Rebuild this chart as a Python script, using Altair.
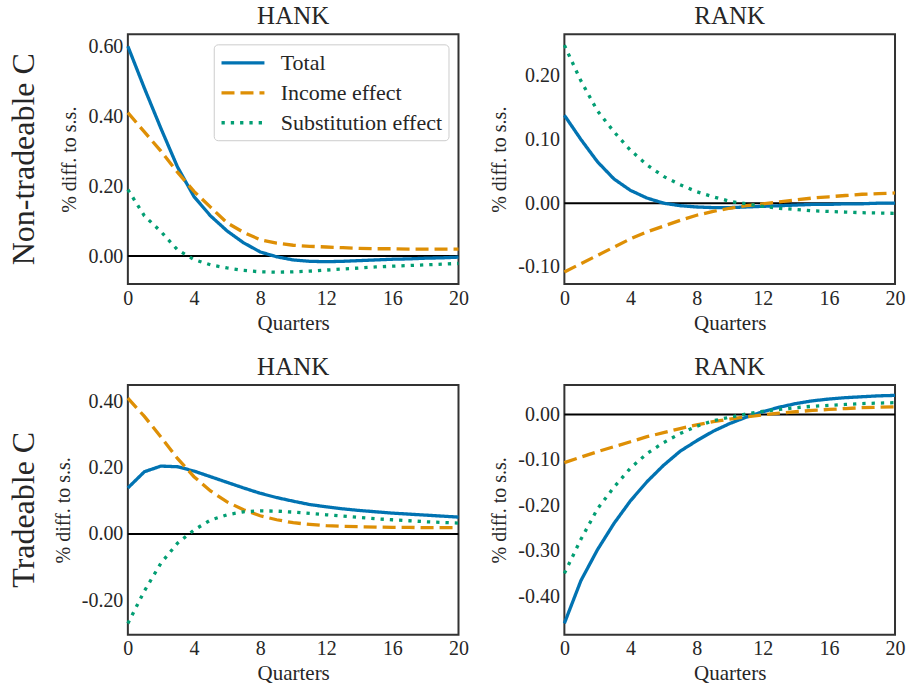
import altair as alt
import pandas as pd

# ---------------- data ----------------
quarters = list(range(21))
series_names = ["Total", "Income effect", "Substitution effect"]
series_colors = ["#0173b2", "#de8f05", "#029e73"]
series_dashes = [[1, 0], [13, 6], [3.3, 6]]

panel_titles = ["HANK", "RANK", "HANK", "RANK"]
row_labels = ["Non-tradeable C", "Tradeable C"]

# Non-tradeable C, HANK
nt_hank_total = [0.600, 0.480, 0.365, 0.255, 0.170, 0.115, 0.072, 0.038, 0.012, -0.002, -0.011, -0.015,
                 -0.016, -0.015, -0.013, -0.011, -0.009, -0.008, -0.006, -0.005, -0.003]
nt_hank_income = [0.410, 0.355, 0.300, 0.240, 0.185, 0.140, 0.095, 0.068, 0.047, 0.037, 0.031, 0.028,
                  0.026, 0.024, 0.022, 0.021, 0.021, 0.020, 0.020, 0.020, 0.020]
nt_hank_subst = [0.190, 0.115, 0.070, 0.018, -0.010, -0.025, -0.034, -0.041, -0.045, -0.046, -0.045, -0.043,
                 -0.040, -0.037, -0.034, -0.031, -0.029, -0.027, -0.025, -0.023, -0.021]

# Non-tradeable C, RANK
nt_rank_total = [0.138, 0.100, 0.065, 0.038, 0.020, 0.008, 0.000, -0.004, -0.006, -0.007, -0.007, -0.006,
                 -0.005, -0.004, -0.003, -0.002, -0.002, -0.001, -0.001, 0.000, 0.000]
nt_rank_income = [-0.108, -0.095, -0.082, -0.069, -0.056, -0.045, -0.036, -0.027, -0.019, -0.013, -0.008,
                  -0.004, -0.001, 0.002, 0.005, 0.008, 0.010, 0.012, 0.014, 0.015, 0.016]
nt_rank_subst = [0.248, 0.192, 0.145, 0.112, 0.083, 0.060, 0.042, 0.029, 0.018, 0.010, 0.003, -0.001,
                 -0.005, -0.008, -0.010, -0.012, -0.013, -0.014, -0.015, -0.0155, -0.016]

# Tradeable C, HANK
t_hank_total = [0.139, 0.188, 0.205, 0.203, 0.190, 0.173, 0.156, 0.139, 0.123, 0.110, 0.099, 0.089,
                0.082, 0.076, 0.071, 0.067, 0.063, 0.060, 0.057, 0.054, 0.051]
t_hank_income = [0.410, 0.355, 0.293, 0.228, 0.173, 0.130, 0.097, 0.073, 0.055, 0.043, 0.034, 0.029,
                 0.025, 0.023, 0.022, 0.021, 0.020, 0.020, 0.019, 0.019, 0.019]
t_hank_subst = [-0.270, -0.172, -0.088, -0.028, 0.012, 0.042, 0.058, 0.067, 0.070, 0.069, 0.066, 0.062,
                0.058, 0.054, 0.050, 0.046, 0.043, 0.040, 0.037, 0.035, 0.033]

# Tradeable C, RANK
t_rank_total = [-0.460, -0.366, -0.298, -0.240, -0.190, -0.148, -0.112, -0.081, -0.058, -0.037, -0.020,
                -0.006, 0.006, 0.016, 0.024, 0.030, 0.034, 0.037, 0.039, 0.041, 0.042]
t_rank_income = [-0.106, -0.094, -0.082, -0.071, -0.060, -0.049, -0.040, -0.031, -0.023, -0.016, -0.010,
                 -0.005, -0.001, 0.003, 0.006, 0.009, 0.011, 0.013, 0.015, 0.016, 0.017]
t_rank_subst = [-0.350, -0.275, -0.208, -0.160, -0.118, -0.086, -0.062, -0.042, -0.026, -0.014, -0.006,
                0.001, 0.007, 0.011, 0.015, 0.018, 0.020, 0.022, 0.024, 0.025, 0.026]

y_domains = [[-0.08, 0.634], [-0.127, 0.265], [-0.304, 0.45], [-0.485, 0.065]]
y_ticks = [[0, 0.2, 0.4, 0.6], [-0.1, 0, 0.1, 0.2], [-0.2, 0, 0.2, 0.4], [-0.4, -0.3, -0.2, -0.1, 0]]
x_ticks = [0, 4, 8, 12, 16, 20]

# ---------------- style ----------------
FONT = "Liberation Serif"
TEXT = "#262626"
W, H = 331, 250
LW = 3.3


def panel(i, total, income, subst, show_legend):
    df = pd.DataFrame({
        "q": quarters * 3,
        "value": total + income + subst,
        "series": [series_names[0]] * 21 + [series_names[1]] * 21 + [series_names[2]] * 21,
    })
    if show_legend:
        leg = alt.Legend(
            title=None, orient="top-right", offset=10,
            symbolType="M-1,0H3", symbolSize=462, symbolStrokeWidth=LW,
            labelOffset=36, labelFontSize=22, labelFont=FONT, labelColor=TEXT, labelLimit=400,
            rowPadding=6, padding=6,
            fillColor="rgba(255,255,255,0.85)", strokeColor="#cccccc", cornerRadius=4,
        )
    else:
        leg = None
    yaxis = alt.Axis(
        values=y_ticks[i],
        labelExpr="datum.value < 0 ? '-' + format(-datum.value, '.2f') : format(datum.value, '.2f')",
        title="% diff. to s.s.",
    )
    xaxis = alt.Axis(values=x_ticks, format="d", title="Quarters")
    lines = alt.Chart(df).mark_line(strokeWidth=LW, strokeCap="butt").encode(
        x=alt.X("q:Q", scale=alt.Scale(domain=[0, 20], nice=False, zero=False), axis=xaxis),
        y=alt.Y("value:Q", scale=alt.Scale(domain=y_domains[i], nice=False, zero=False), axis=yaxis),
        color=alt.Color("series:N", scale=alt.Scale(domain=series_names, range=series_colors), legend=leg),
        strokeDash=alt.StrokeDash("series:N", scale=alt.Scale(domain=series_names, range=series_dashes),
                                  legend=leg),
    )
    zero = alt.Chart(pd.DataFrame({"z": [0]})).mark_rule(color="black", strokeWidth=2).encode(
        y=alt.datum(0)
    )
    return alt.layer(zero, lines).properties(
        width=W, height=H,
        title=alt.TitleParams(panel_titles[i], fontSize=25, font=FONT, fontWeight="normal", color=TEXT,
                              offset=5, anchor="middle", frame="group"),
    )


def row_label(text):
    return alt.Chart(pd.DataFrame({"label": [text]})).mark_text(
        angle=270, fontSize=32, font=FONT, color=TEXT, align="center", baseline="alphabetic"
    ).encode(
        text="label:N", x=alt.value(33), y=alt.value(H / 2)
    ).properties(width=21, height=H, view=alt.ViewBackground(stroke="transparent"))


chart = alt.concat(
    row_label(row_labels[0]),
    panel(0, nt_hank_total, nt_hank_income, nt_hank_subst, True),
    panel(1, nt_rank_total, nt_rank_income, nt_rank_subst, False),
    row_label(row_labels[1]),
    panel(2, t_hank_total, t_hank_income, t_hank_subst, False),
    panel(3, t_rank_total, t_rank_income, t_rank_subst, False),
    columns=3,
    spacing={"row": 101, "column": 106},
    bounds="flush",
    align="each",
).resolve_scale(
    x="independent", y="independent", color="independent", strokeDash="independent"
).properties(
    padding={"left": 0, "top": 3, "right": 0, "bottom": 0}
).configure_view(
    stroke="#333333", strokeWidth=2
).configure_axis(
    domain=False, ticks=False, tickSize=0, grid=False, labelFlush=False,
    labelFont=FONT, labelFontSize=20, labelColor=TEXT, labelPadding=5,
    titleFont=FONT, titleFontWeight="normal", titleColor=TEXT,
).configure_axisX(
    titleFontSize=21, titlePadding=4, labelPadding=4
).configure_axisY(
    titleFontSize=20, titlePadding=8
)

chart.save("out.html", embed_options={"renderer": "svg", "actions": False})
